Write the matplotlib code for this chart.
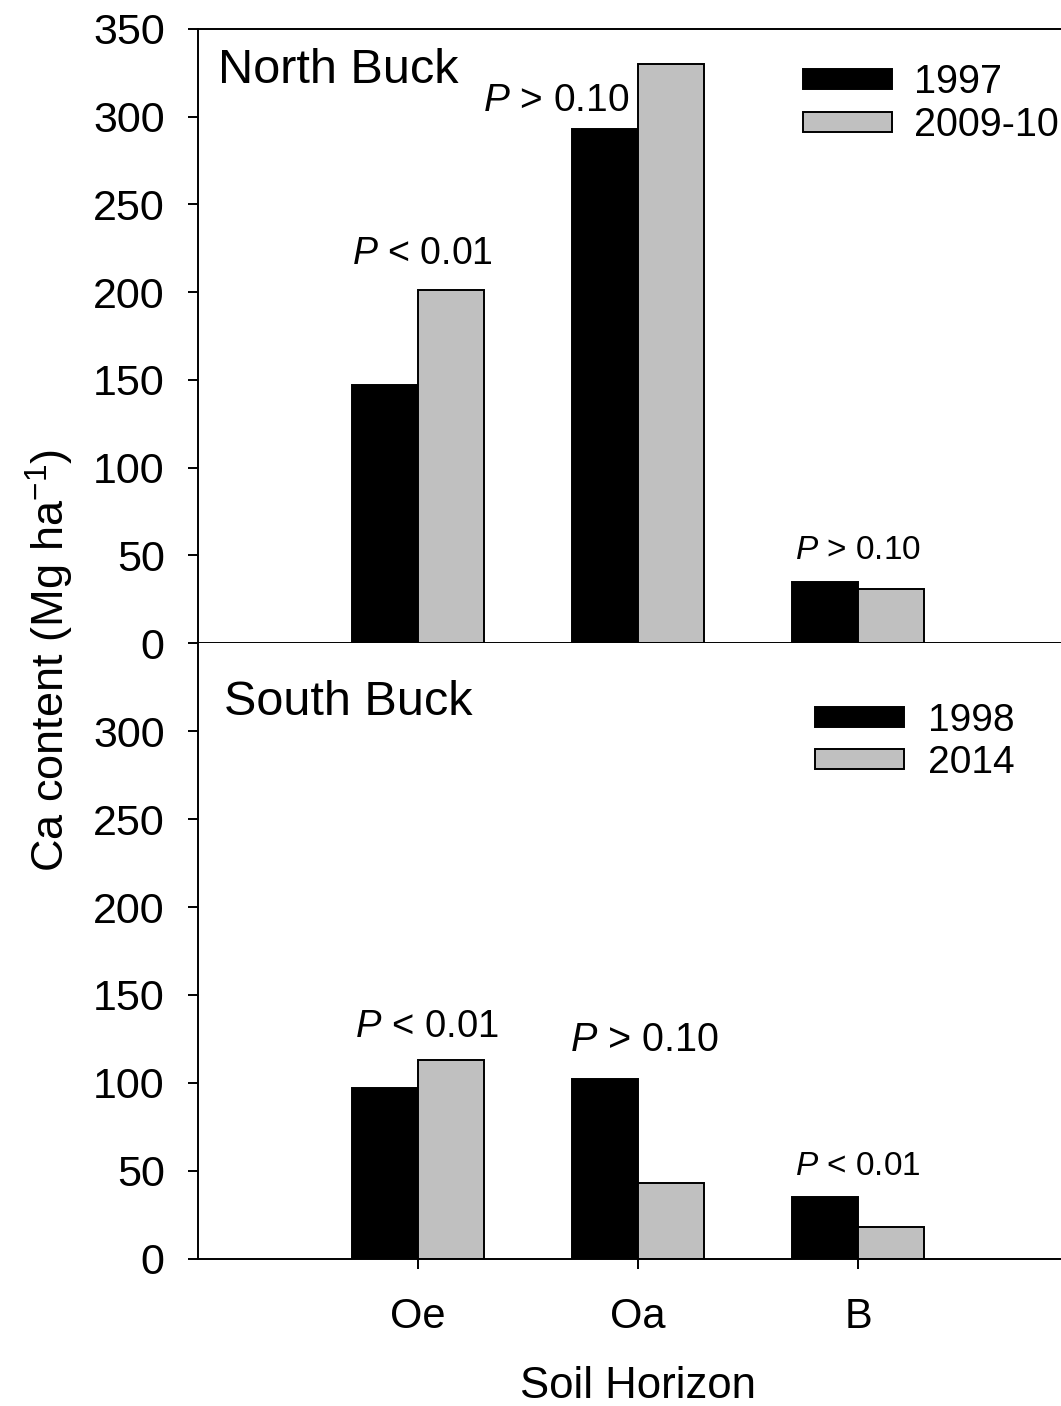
import matplotlib
matplotlib.use("Agg")
import matplotlib.pyplot as plt
import numpy as np

plt.rcParams['font.family'] = ['Liberation Sans', 'DejaVu Sans']
plt.rcParams['mathtext.fontset'] = 'custom'
plt.rcParams['mathtext.rm'] = 'Liberation Sans'
plt.rcParams['mathtext.it'] = 'Liberation Sans:italic'

# data
horizons = ['Oe', 'Oa', 'B']
north_1997 = [147, 293, 35]
north_2009 = [201, 330, 31]
south_1998 = [97, 102, 35]
south_2014 = [113, 43, 18]
north_p = ['$\\it{P}$ < 0.01', '$\\it{P}$ > 0.10', '$\\it{P}$ > 0.10']
south_p = ['$\\it{P}$ < 0.01', '$\\it{P}$ > 0.10', '$\\it{P}$ < 0.01']

W, H = 1061, 1406
fig = plt.figure(figsize=(W / 100, H / 100), dpi=100)

left = 198 / W
ax_top = fig.add_axes([left, (H - 643) / H, 1 - left, (643 - 29) / H])
ax_bot = fig.add_axes([left, (H - 1259) / H, 1 - left, (1259 - 643) / H])

x = np.arange(1, len(horizons) + 1)
bw = 0.3
lw = 1.4


def draw_panel(ax, a, b, la, lb):
    ax.bar(x - bw / 2, a, bw, color='black', edgecolor='black', linewidth=lw, label=la)
    ax.bar(x + bw / 2, b, bw, color='#c0c0c0', edgecolor='black', linewidth=lw, label=lb)
    ax.set_xlim(0, (W - 198) / 220)
    ax.set_ylim(0, 350)
    ax.spines['right'].set_visible(False)
    for s in ['left', 'bottom', 'top']:
        ax.spines[s].set_linewidth(lw)
    ax.tick_params(axis='y', direction='out', length=7, width=lw, labelsize=31, pad=17)
    ax.tick_params(axis='x', direction='out', length=7, width=lw, labelsize=30, pad=20)


draw_panel(ax_top, north_1997, north_2009, '1997', '2009-10')
draw_panel(ax_bot, south_1998, south_2014, '1998', '2014')

ax_top.set_yticks(np.arange(0, 351, 50))
ax_top.set_xticks([])
ax_bot.spines['top'].set_visible(False)
ax_bot.set_yticks(np.arange(0, 301, 50))
ax_bot.set_xticks(x)
ax_bot.set_xticklabels(horizons)

# p-value annotations
for xp, yp, s, fs in zip([1.02, 1.63, 3.0], [216, 303, 48], north_p, [27, 28, 24]):
    ax_top.text(xp, yp, s, ha='center', va='baseline', fontsize=fs)
for xp, yp, s, fs in zip([1.04, 2.03, 3.0], [126, 118, 48], south_p, [27.5, 28.5, 24]):
    ax_bot.text(xp, yp, s, ha='center', va='baseline', fontsize=fs)

ax_top.text(218 / W, 1 - 83 / H, 'North Buck', transform=fig.transFigure,
            fontsize=35, va='baseline', ha='left')
ax_bot.text(224 / W, 1 - 715 / H, 'South Buck', transform=fig.transFigure,
            fontsize=35, va='baseline', ha='left')

ax_top.legend(loc='upper left', bbox_to_anchor=(803 / W, 1 - 63 / H),
              bbox_transform=fig.transFigure, frameon=False, fontsize=28.5,
              handlelength=2.24, handleheight=0.42, handletextpad=0.57,
              labelspacing=0.13, borderpad=0, borderaxespad=0)
ax_bot.legend(loc='upper left', bbox_to_anchor=(815 / W, 1 - 703 / H),
              bbox_transform=fig.transFigure, frameon=False, fontsize=28,
              handlelength=2.29, handleheight=0.42, handletextpad=0.62,
              labelspacing=0.16, borderpad=0, borderaxespad=0)

fig.text(50 / W, 1 - 660 / H, 'Ca content (Mg ha$^{-1}$)', rotation=90,
         ha='center', va='center', fontsize=32.5)
fig.text(638 / W, 1 - 1386 / H, 'Soil Horizon', ha='center', va='center', fontsize=31.5)

fig.savefig('out.png', dpi=100)
